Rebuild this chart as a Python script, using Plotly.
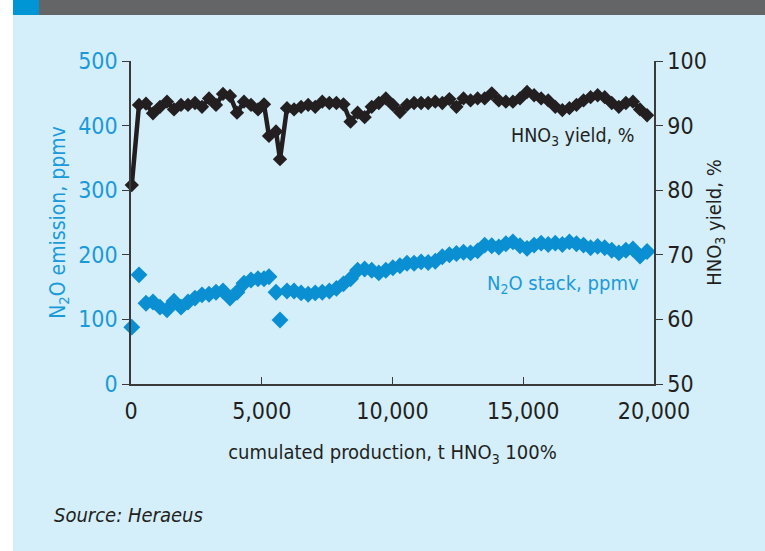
import plotly.graph_objects as go

# cumulated production, t HNO3 100%
production = [
    30, 306, 574, 841, 1109, 1377, 1644, 1912, 2180, 2447,
    2715, 2983, 3250, 3518, 3786, 4053, 4321, 4589, 4856, 5086,
    5277, 5545, 5698, 5965, 6235, 6505, 6775, 7045, 7315, 7585,
    7855, 8125, 8395, 8665, 8935, 9205, 9475, 9745, 10015, 10285,
    10555, 10825, 11095, 11365, 11635, 11905, 12175, 12445, 12715, 12985,
    13255, 13525, 13795, 14065, 14335, 14605, 14875, 15145, 15415, 15685,
    15955, 16225, 16495, 16765, 17035, 17305, 17575, 17845, 18115, 18385,
    18655, 18925, 19195, 19465, 19735,
]

# HNO3 yield, %
hno3_yield = [
    80.8, 93.2, 93.4, 91.9, 92.9, 93.7, 92.5, 93.2, 93.2, 93.5,
    92.9, 94.2, 93.2, 94.9, 94.6, 92.0, 93.7, 93.2, 92.5, 93.3,
    88.4, 89.1, 84.8, 92.7, 92.5, 92.9, 93.2, 92.9, 93.7, 93.5,
    93.5, 93.3, 90.6, 92.0, 91.3, 92.9, 93.5, 94.2, 93.2, 92.1,
    93.2, 93.5, 93.5, 93.5, 93.7, 93.5, 94.1, 92.9, 94.2, 93.9,
    94.2, 94.2, 95.0, 93.9, 93.7, 93.7, 94.2, 95.2, 94.7, 94.2,
    93.9, 92.9, 92.4, 92.7, 93.2, 93.9, 94.4, 94.7, 94.4, 93.5,
    92.9, 93.5, 93.7, 92.5, 91.6,
]

# N2O stack, ppmv
n2o_stack = [
    88, 169, 125, 127, 119, 115, 128, 119, 127, 133,
    138, 139, 142, 144, 133, 142, 156, 161, 163, 163,
    166, 142, 99, 144, 144, 141, 139, 141, 142, 144,
    148, 155, 163, 176, 178, 176, 172, 176, 180, 183,
    187, 187, 189, 188, 190, 197, 200, 202, 204, 203,
    206, 215, 214, 212, 217, 220, 214, 210, 215, 218,
    216, 218, 216, 220, 217, 215, 211, 213, 211, 207,
    203, 207, 209, 198, 205,
]

x_ticks = [0, 5000, 10000, 15000, 20000]
x_tick_labels = ['0', '5,000', '10,000', '15,000', '20,000']

BG = '#d4eefa'
BLUE = '#0a8fd2'
BLUE_TXT = '#1b9ad9'
DARK = '#231f20'
AXIS = '#3a3a3a'
FONT = 'DejaVu Sans Condensed, Liberation Sans Narrow, Arial Narrow, sans-serif'

fig = go.Figure()

fig.add_trace(go.Scatter(
    x=production, y=n2o_stack,
    mode='markers',
    name='N2O stack, ppmv',
    marker=dict(symbol='diamond', size=13, color=BLUE),
    cliponaxis=False,
))

fig.add_trace(go.Scatter(
    x=production, y=hno3_yield,
    mode='lines+markers',
    name='HNO3 yield, %',
    yaxis='y2',
    line=dict(color=DARK, width=4.5),
    marker=dict(symbol='diamond', size=11, color=DARK),
    cliponaxis=False,
))

fig.update_layout(
    width=765, height=551,
    margin=dict(l=131, r=111, t=61, b=167),
    paper_bgcolor=BG,
    plot_bgcolor=BG,
    showlegend=False,
    font=dict(family=FONT, color=DARK, size=20),
    xaxis=dict(
        range=[0, 20000],
        tickvals=x_ticks, ticktext=x_tick_labels,
        ticks='inside', ticklen=7, tickcolor=AXIS, tickwidth=1,
        ticklabelstandoff=6,
        showline=True, linecolor=AXIS, linewidth=1.5,
        showgrid=False, zeroline=False,
        tickfont=dict(size=23, color=DARK),
        title=dict(text='cumulated production, t HNO<sub>3</sub> 100%',
                   font=dict(size=20, color=DARK), standoff=22),
    ),
    yaxis=dict(
        range=[0, 500], dtick=100,
        ticks='outside', ticklen=7, tickcolor=AXIS, tickwidth=1,
        showline=True, linecolor=AXIS, linewidth=1.5,
        showgrid=False, zeroline=False,
        tickfont=dict(size=23, color=BLUE_TXT),
        title=dict(text='N<sub>2</sub>O emission, ppmv',
                   font=dict(size=21, color=BLUE_TXT), standoff=7),
    ),
    yaxis2=dict(
        range=[50, 100], dtick=10,
        overlaying='y', side='right',
        ticks='outside', ticklen=7, tickcolor=AXIS, tickwidth=1,
        showline=True, linecolor=AXIS, linewidth=1.5,
        showgrid=False, zeroline=False,
        tickfont=dict(size=23, color=DARK),
        title=dict(text='HNO<sub>3</sub> yield, %',
                   font=dict(size=20, color=DARK), standoff=1),
    ),
)

# series labels
fig.add_annotation(x=0.966, y=0.765, xref='paper', yref='paper',
                   text='HNO<sub>3</sub> yield, %', showarrow=False,
                   xanchor='right', yanchor='middle',
                   font=dict(size=19.5, color=DARK))
fig.add_annotation(x=0.976, y=0.31, xref='paper', yref='paper',
                   text='N<sub>2</sub>O stack, ppmv', showarrow=False,
                   xanchor='right', yanchor='middle',
                   font=dict(size=20, color=BLUE_TXT))

# source note
fig.add_annotation(x=-0.152, y=-0.405, xref='paper', yref='paper',
                   text='<i>Source: Heraeus</i>', showarrow=False,
                   xanchor='left', yanchor='middle',
                   font=dict(size=20, color=DARK))

# page frame: white strip on the left, dark header bar with blue tab
fig.add_shape(type='rect', xref='paper', yref='paper',
              x0=-0.26, x1=-0.2256, y0=-0.6, y1=1.25,
              fillcolor='white', line=dict(width=0), layer='above')
fig.add_shape(type='rect', xref='paper', yref='paper',
              x0=-0.2256, x1=1.22, y0=1.1424, y1=1.25,
              fillcolor='#646567', line=dict(width=0), layer='above')
fig.add_shape(type='rect', xref='paper', yref='paper',
              x0=-0.2256, x1=-0.1759, y0=1.1424, y1=1.25,
              fillcolor='#0096d6', line=dict(width=0), layer='above')

fig.write_html("out.html", config={'displayModeBar': False},
               post_script="document.body.style.margin='0';")
